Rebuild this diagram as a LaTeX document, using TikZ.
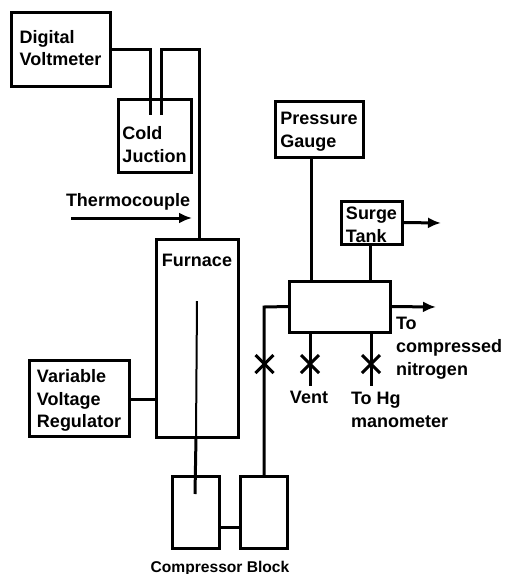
\documentclass[tikz,border=0pt]{standalone}
\usepackage{fontspec}
\setmainfont{Liberation Sans}
\usetikzlibrary{arrows.meta,shapes.misc}
\begin{document}
\begin{tikzpicture}[x=1pt,y=-1pt]
  \tikzset{
    every node/.style={font=\fontsize{18}{22.8}\selectfont\bfseries,align=left,inner sep=0pt,outer sep=0pt},
    unit/.style={draw,line width=3pt,minimum width=#1},
    wire/.style={line width=3pt,line join=miter},
    flow/.style={wire,-{Latex[length=13pt,width=11pt]}},
    valve/.style={draw,cross out,line width=3pt,minimum size=18pt},
    inside/.style 2 args={label={[yshift=#1]center:{#2}}}
  }
  \useasboundingbox (0,0) rectangle (505,574);

  \node[unit=99pt,minimum height=74pt,inside={1pt}{Digital\\Voltmeter}] (voltmeter) at (60.5,49) {};
  \node[unit=73pt,minimum height=73pt,inside={-9pt}{Cold\\Juction}] (junction) at (154.5,135.5) {};
  \node[unit=82pt,minimum height=198pt] (furnace) at (197,338) {};
  \node (furnacetext) at (197,260) {Furnace};
  \node[unit=100pt,minimum height=76pt,inside={-2.5pt}{Variable\\Voltage\\Regulator}] (regulator) at (79,398) {};
  \node[unit=47pt,minimum height=72pt] (blockA) at (195.5,512) {};
  \node[unit=47pt,minimum height=72pt] (blockB) at (263.5,512) {};
  \node[unit=88pt,minimum height=56pt,inside={-3pt}{Pressure\\Gauge}] (gauge) at (319,129) {};
  \node[unit=61pt,minimum height=43pt,inside={-2pt}{Surge\\Tank}] (tank) at (371.5,222.5) {};
  \node[unit=101pt,minimum height=51pt] (manifold) at (339.5,306.5) {};

  \node[anchor=west] (couple) at (66,202) {Thermocouple};
  \node[anchor=north west] (nitrogen) at (396,317.5) {To\\compressed\\nitrogen};
  \node (vent) at (309,397) {Vent};
  \node[anchor=north west] (mercury) at (351,392) {To Hg\\manometer};
  \node[font=\fontsize{15.6}{19}\selectfont\bfseries] (compressor) at (220,568) {Compressor Block};

  \coordinate (wireA) at (150,115);
  \coordinate (wireB) at (161,115);
  \coordinate (coupleA) at (71,218);
  \coordinate (coupleB) at (192,218);
  \coordinate (probe) at (197,301);
  \coordinate (probeEnd) at (195,494);
  \coordinate (surgeOut) at (441,223);
  \coordinate (nitrogenOut) at (436,307);
  \coordinate (ventEnd) at (310,386);
  \coordinate (mercuryEnd) at (371,386);

  \draw[wire] (voltmeter.east) -| (wireA);
  \draw[wire] (wireB) |- (199,49) -- (furnace.north -| 199,0);
  \draw[flow] (coupleA) -- (coupleB);
  \draw[wire,line width=2pt] (probe) -- (196,437);
  \draw[wire] (196,437) -- (probeEnd);
  \draw[wire] (regulator.east |- 0,399) -- (furnace.west |- 0,399);
  \draw[wire] (blockA.east |- 0,527) -- (blockB.west |- 0,527);
  \draw[wire] (blockB.north -| 264,0) -- (264,307) -- (manifold.west);
  \draw[wire] (gauge.south -| 311,0) -- (manifold.north -| 311,0);
  \draw[wire] (tank.south -| 370,0) -- (manifold.north -| 370,0);
  \draw[flow] (tank.east) -- (surgeOut);
  \draw[flow] (manifold.east) -- (nitrogenOut);
  \draw[wire] (manifold.south -| ventEnd) -- (ventEnd);
  \draw[wire] (manifold.south -| mercuryEnd) -- (mercuryEnd);

  \node[valve] (valveA) at (264.5,364) {};
  \node[valve] (valveB) at (310,364) {};
  \node[valve] (valveC) at (371,364) {};
\end{tikzpicture}
\end{document}
